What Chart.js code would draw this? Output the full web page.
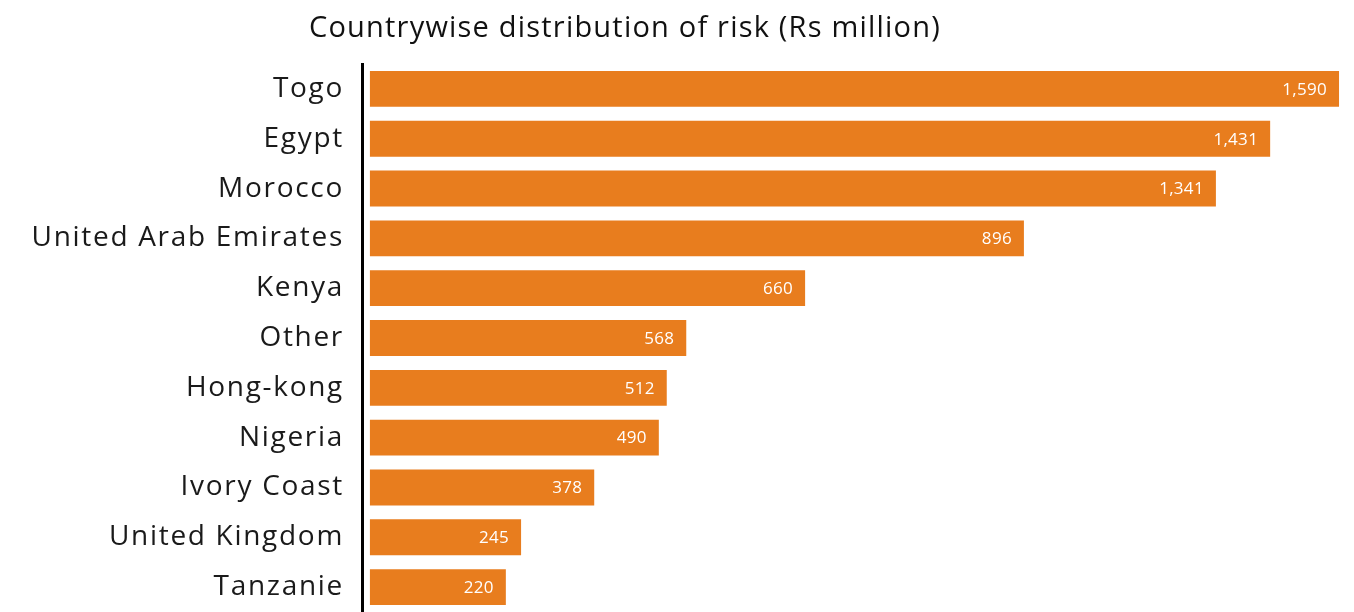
<!DOCTYPE html>
<html>
<head>
<meta charset="utf-8">
<script src="https://cdn.jsdelivr.net/npm/chart.js@4.4.0/dist/chart.umd.min.js"></script>
<style>
  html, body { margin: 0; padding: 0; background: #fff; }
  #wrap { position: relative; width: 1354px; height: 612px; }
  #title {
    position: absolute; left: 0; top: 6px; width: 1250px; text-align: center;
    font-family: "Open Sans", sans-serif; font-size: 29px; letter-spacing: 1.2px; color: #111;
  }
</style>
</head>
<body>
<div id="wrap">
  <div id="title">Countrywise distribution of risk (Rs million)</div>
  <canvas id="myChart" width="1354" height="612"></canvas>
</div>
<script>
// Countries, top to bottom
const countries = ['Togo', 'Egypt', 'Morocco', 'United Arab Emirates', 'Kenya', 'Other',
    'Hong-kong', 'Nigeria', 'Ivory Coast', 'United Kingdom', 'Tanzanie']

// Printed values on the bars
const printedValues = ['1,590', '1,431', '1,341', '896', '660', '568', '512', '490', '378', '245', '220']

// Bar lengths as drawn in the picture (same units, measured against the Togo bar)
const barLengths = [1590, 1477, 1388, 1073, 714, 519, 487, 474, 368, 248, 223]

const BAR_COLOR = '#e87d1e'

// wider letter spacing for the axis labels
const spacing = {
    id: 'spacing',
    beforeDraw(chart) {
        chart.ctx.letterSpacing = '1.7px'
    }
}

// draws the value text inside the end of each bar
const valueLabels = {
    id: 'valueLabels',
    afterDatasetsDraw(chart) {
        const ctx = chart.ctx
        const meta = chart.getDatasetMeta(0)
        ctx.save()
        ctx.letterSpacing = '0.3px'
        ctx.fillStyle = '#ffffff'
        ctx.font = '17px "Open Sans", sans-serif'
        ctx.textAlign = 'right'
        ctx.textBaseline = 'middle'
        meta.data.forEach(function (bar, index) {
            ctx.fillText(printedValues[index], bar.x - 12, bar.y + 1)
        })
        ctx.restore()
    }
}

let ctx = document.getElementById('myChart')
let myChart = new Chart(ctx, {
    type: 'bar',
    data: {
        labels: countries,
        datasets: [{
            data: barLengths,
            backgroundColor: BAR_COLOR,
            borderWidth: 0,
            barPercentage: 0.72,
            categoryPercentage: 1
        }]
    },
    options: {
        indexAxis: 'y',
        responsive: false,
        animation: false,
        layout: { padding: { left: 0, right: 4, top: 64, bottom: 0 } },
        plugins: {
            legend: { display: false },
            title: { display: false },
            tooltip: { enabled: false }
        },
        scales: {
            x: {
                display: false,
                min: -13,
                max: 1608
            },
            y: {
                afterFit(scale) {
                    scale.width = 362
                    scale.paddingTop = 0
                    scale.paddingBottom = 0
                },
                grid: { display: false, drawTicks: false },
                border: { display: true, color: '#000', width: 3 },
                ticks: {
                    padding: 18,
                    color: '#1a1a1a',
                    font: { family: '"Open Sans", sans-serif', size: 28 }
                }
            }
        }
    },
    plugins: [spacing, valueLabels]
});
</script>
</body>
</html>
